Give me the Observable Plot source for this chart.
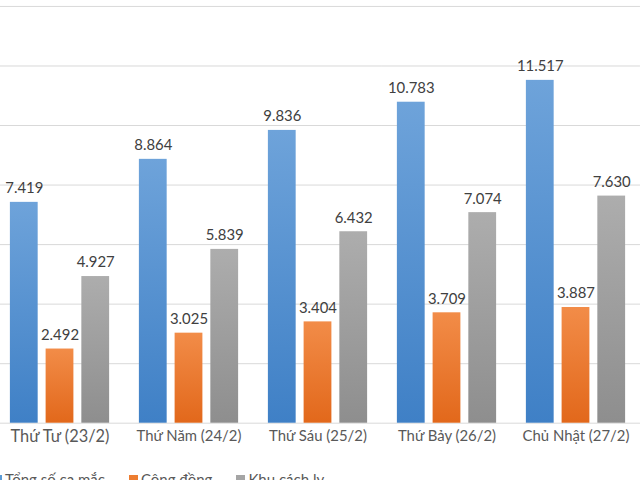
<!DOCTYPE html>
<html>
<head>
<meta charset="utf-8">
<script src="https://cdn.jsdelivr.net/npm/d3@7"></script>
<script src="https://cdn.jsdelivr.net/npm/@observablehq/plot@0.6"></script>
<style>
  html, body { margin: 0; padding: 0; background: #fff; overflow: hidden; width: 640px; height: 480px; }
  #chart { margin-left: -5px; }
  #chart svg { display: block; }
  #legend { display: flex; margin-left: -7px; padding-top: 10px; font-family: Lato, "Noto Sans", sans-serif; font-size: 15px; color: #595959; line-height: 18px; }
  .item { display: flex; align-items: center; margin-right: 24px; }
  .sw { width: 9px; height: 9px; margin-right: 3px; }
</style>
</head>
<body>
<div id="chart"></div>
<div id="legend"></div>
<script>
const days = ["Thứ Tư (23/2)", "Thứ Năm (24/2)", "Thứ Sáu (25/2)", "Thứ Bảy (26/2)", "Chủ Nhật (27/2)"];
const series = ["Tổng số ca mắc", "Cộng đồng", "Khu cách ly"];
const total = [7419, 8864, 9836, 10783, 11517];
const community = [2492, 3025, 3404, 3709, 3887];
const quarantine = [4927, 5839, 6432, 7074, 7630];
const yTicks = [0, 2000, 4000, 6000, 8000, 10000, 12000, 14000];
const swatchColors = ["#5b9bd5", "#ed7d31", "#a5a5a5"];
const gradients = [["#6ea3da", "#3f80c6"], ["#f28c48", "#e2681b"], ["#adadad", "#8e8e8e"]];

const valuesBySeries = [total, community, quarantine];
const data = [];
days.forEach((day, i) => series.forEach((s, j) => data.push({day, series: s, value: valuesBySeries[j][i]})));

const fmt = d3.formatLocale({decimal: ",", thousands: ".", grouping: [3], currency: ["", ""]}).format(",d");

const chart = Plot.plot({
  width: 650,
  height: 464,
  marginLeft: 0,
  marginRight: 0,
  marginTop: 6,
  marginBottom: 38,
  style: {fontFamily: 'Lato, "Noto Sans", sans-serif', fontSize: "15px", color: "#595959", background: "#fff"},
  fx: {domain: days, padding: 0, label: null, axis: "bottom", tickSize: 0, tickPadding: 7},
  x: {domain: series, paddingInner: 0.21, paddingOuter: 0.41, axis: null},
  y: {domain: [0, 14000], axis: null},
  color: {domain: series, range: series.map((s, j) => `url(#grad${j})`)},
  marks: [
    Plot.ruleY(yTicks, {stroke: "#d9d9d9", strokeWidth: 1}),
    Plot.barY(data, {fx: "day", x: "series", y: "value", fill: "series"}),
    Plot.text(data, {fx: "day", x: "series", y: "value", text: d => fmt(d.value), dy: -14, fill: "#404040", fontSize: 15})
  ]
});

const defs = gradients.map((g, j) =>
  `<linearGradient id="grad${j}" x1="0" y1="0" x2="0" y2="1"><stop offset="0" stop-color="${g[0]}"/><stop offset="1" stop-color="${g[1]}"/></linearGradient>`
).join("");
chart.insertAdjacentHTML("afterbegin", `<defs>${defs}</defs>`);
// the first day label is drawn slightly larger in the reference
const fxTexts = [...chart.querySelectorAll("g[aria-label='fx-axis tick label'] text, g[aria-label='fx-axis'] text")];
const firstLabel = fxTexts.find(t => t.textContent === days[0]);
if (firstLabel) firstLabel.setAttribute("font-size", "16.5px");
document.getElementById("chart").append(chart);

const legend = document.getElementById("legend");
series.forEach((s, j) => {
  const item = document.createElement("div");
  item.className = "item";
  const sw = document.createElement("div");
  sw.className = "sw";
  sw.style.background = swatchColors[j];
  const t = document.createElement("span");
  t.textContent = s;
  item.append(sw, t);
  legend.append(item);
});
</script>
</body>
</html>
